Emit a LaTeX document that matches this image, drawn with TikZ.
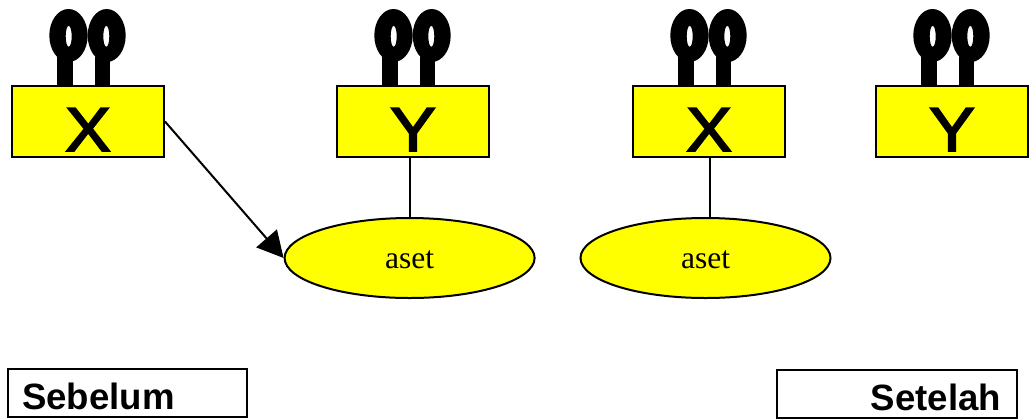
\documentclass[tikz,border=0pt]{standalone}
\usepackage{fontspec}
\setmainfont{Liberation Serif}
\newfontfamily\arialfont{Liberation Sans}
\newfontfamily\letterfont[FakeStretch=1.1,FakeBold=3]{Liberation Sans}
\usetikzlibrary{shapes.geometric,arrows.meta,calc}
\definecolor{pureyellow}{RGB}{255,255,0}
\tikzset{
  x=1pt,y=-1pt,
  party/.style={draw=black,fill=pureyellow,line width=2pt,minimum width=152pt,inner xsep=0pt,inner ysep=0pt,
    text height=65pt,text depth=6pt,font=\letterfont\fontsize{62}{62}\selectfont},
  asset/.style={ellipse,draw=black,fill=pureyellow,line width=2pt,minimum width=250pt,minimum height=80pt,inner sep=0pt,
    text height=20pt,text depth=0pt,font=\fontsize{31.5}{31.5}\selectfont},
  caption/.style={draw=black,fill=white,line width=2pt,inner ysep=0pt,text height=40.5pt,text depth=7.5pt,
    font=\arialfont\bfseries\fontsize{36.6}{36.6}\selectfont},
  link/.style={draw=black,line width=2pt},
  pins/.pic={
    \fill[black,even odd rule] (19.2,26.5) ellipse [x radius=19.2,y radius=26.5]
      (19.4,27.3) ellipse [x radius=3,y radius=10.5];
    \fill[black,even odd rule] (57.4,26.5) ellipse [x radius=19,y radius=26.5]
      (57,27.3) ellipse [x radius=3,y radius=10.5];
    \fill[black] (8,48) rectangle (23.7,77);
    \fill[black] (45.4,48) rectangle (61,77);
  }
}
\begin{document}
\begin{tikzpicture}
\useasboundingbox (0,0) rectangle (1032,418);
\pic at (49.3,9) {pins};
\pic at (374.3,9) {pins};
\pic at (670.3,9) {pins};
\pic at (913.3,9) {pins};
\node[party] (X1) at (88,121.5) {X};
\node[party] (Y1) at (413,121.5) {Y};
\node[party] (X2) at (709,121.5) {X};
\node[party] (Y2) at (952,121.5) {Y};
\node[asset] (A1) at (409.6,258) {aset};
\node[asset] (A2) at (705.5,258) {aset};
\draw[link] (A1.north) -- (A1.north |- Y1.south);
\draw[link] ([xshift=.7pt]X2.south) -- ([xshift=.7pt]X2.south |- A2.north);
\draw[link,-{Triangle[length=26pt,width=27pt]}] (X1.east) -- (A1.west);
\node[caption,text width=211pt,inner xsep=14pt,align=left] (B) at (127.5,393) {Sebelum};
\node[caption,text width=208pt,inner xsep=16pt,align=right,text height=40pt,text depth=8pt] (S) at (897,394) {Setelah};
\end{tikzpicture}
\end{document}
